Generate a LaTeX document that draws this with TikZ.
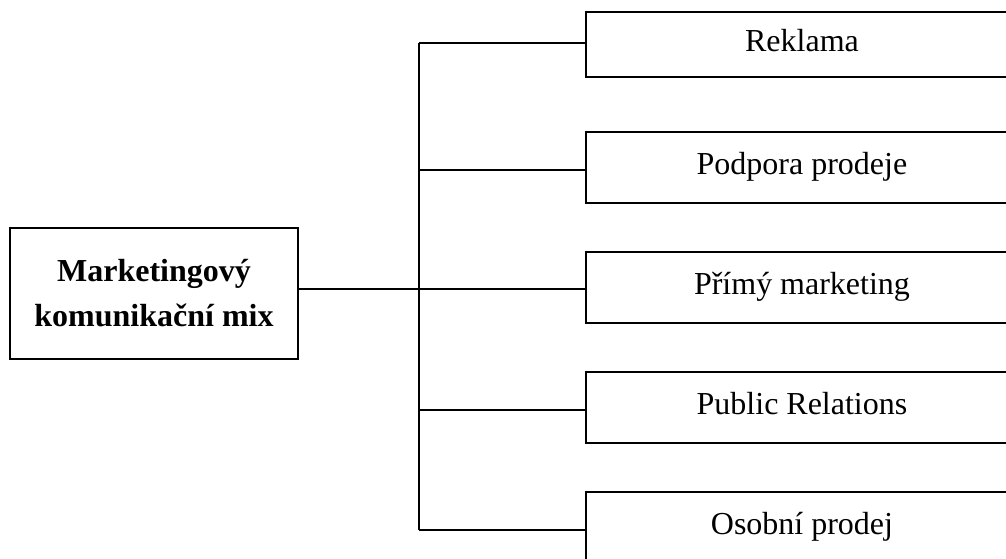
\documentclass[tikz,border=0pt]{standalone}
\usepackage{fontspec}
\setmainfont{Liberation Serif}
\begin{document}
\begin{tikzpicture}[x=1pt,y=-1pt,line width=1.5pt,
  itembox/.style={draw, rectangle, minimum width=440pt, inner sep=0pt,
    font=\fontsize{32}{40}\selectfont, text height=22pt, text depth=8pt},
  mainbox/.style={draw, rectangle, minimum width=288pt, minimum height=131pt, inner sep=0pt,
    align=center, font=\fontsize{32}{47}\selectfont\bfseries},
  link/.style={draw, line width=1.5pt}]
\useasboundingbox (0,0) rectangle (1006,559);
\clip (0,0) rectangle (1006,559);
\node[mainbox] (main) at (154,293.5) {Marketingový\\[-2pt]komunikační mix};
\node[itembox, minimum height=65pt] (r1) at (806,44.5) {\hspace*{-8pt}Reklama};
\node[itembox, minimum height=71pt] (r2) at (806,167.5) {\hspace*{-8pt}Podpora prodeje};
\node[itembox, minimum height=71pt] (r3) at (806,287.5) {\hspace*{-8pt}Přímý marketing};
\node[itembox, minimum height=71pt] (r4) at (806,407.5) {\hspace*{-8pt}Public Relations};
\node[itembox, minimum height=71pt] (r5) at (806,527.5) {\hspace*{-8pt}Osobní prodej};
\coordinate (jt) at (419,43);
\coordinate (jm) at (419,289);
\coordinate (jb) at (419,530);
\draw[link] (jt) -- (jb);
\draw[link] (jt) -- (jt -| r1.west);
\draw[link] (419,170) -- (r2.west |- 419,170);
\draw[link] (main.east |- jm) -- (jm -| r3.west);
\draw[link] (419,410) -- (r4.west |- 419,410);
\draw[link] (jb) -- (jb -| r5.west);
\end{tikzpicture}
\end{document}
